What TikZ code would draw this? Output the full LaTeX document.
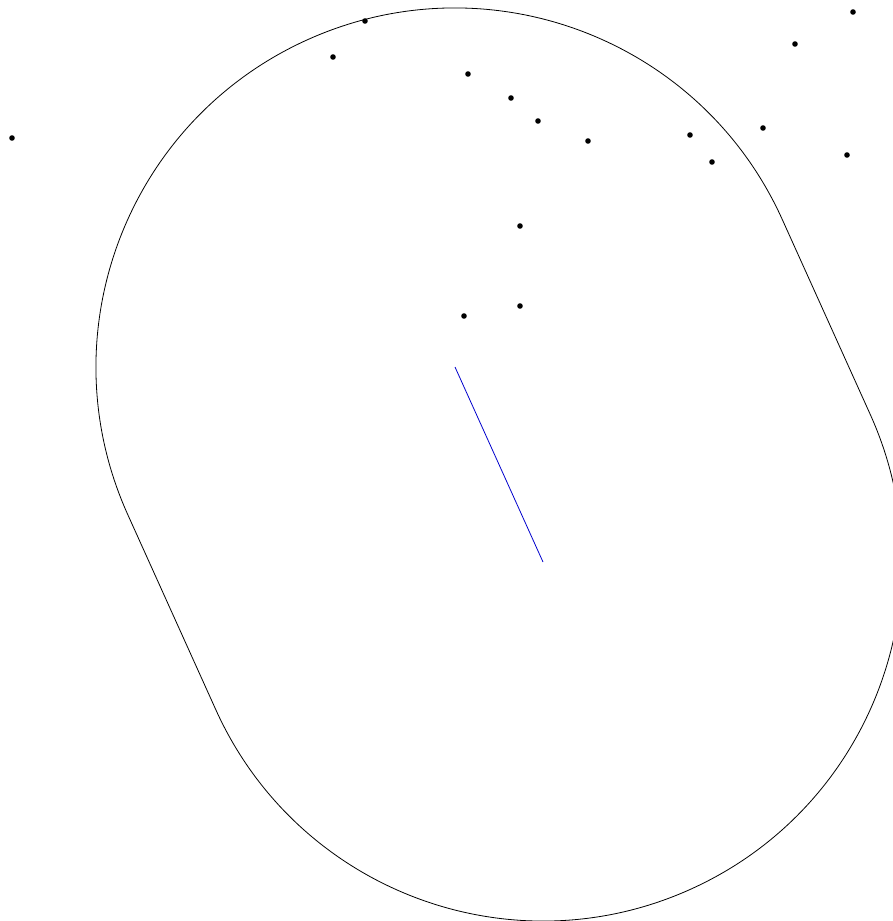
\documentclass[tikz,border=0pt]{standalone}
\usepackage{tikz}
\usetikzlibrary{calc}

\tikzset{
    pt/.style={fill=black, draw=none},
    hull/.style={black, line width=0.8pt},
    axisseg/.style={blue!80!black, line width=0.8pt}
}

\begin{document}
\begin{tikzpicture}[x=1pt, y=-1pt]
        % Frame (pixel grid, y down)
        \useasboundingbox (0,0) rectangle (893,921);
        \clip (0,0) rectangle (893,921);

        % Segment end points
        \coordinate (A) at (455,367);
        \coordinate (B) at (543,562);

        % Capsule around the segment (radius 359)
        \begin{scope}[y=1pt, shift={(0,-921)}]
            \coordinate (Am) at (455,554);
            \coordinate (Bm) at (543,359);
            \draw[hull] ($(Am)+(24.3:359)$) arc[start angle=24.3, end angle=204.3, radius=359]
                -- ($(Bm)+(204.3:359)$) arc[start angle=204.3, end angle=384.3, radius=359]
                -- cycle;
        \end{scope}

        % Segment
        \draw[axisseg] (A) -- (B);

        % Points
        \foreach \x/\y in {12/138, 365/21, 333/57, 468/74, 511/98, 538/121,
                           588/141, 690/135, 712/162, 763/128, 795/44, 853/12,
                           847/155, 520/226, 520/306, 464/316} {
            \fill[pt] (\x,\y) circle (2.8);
        }
    \end{tikzpicture}
\end{document}
